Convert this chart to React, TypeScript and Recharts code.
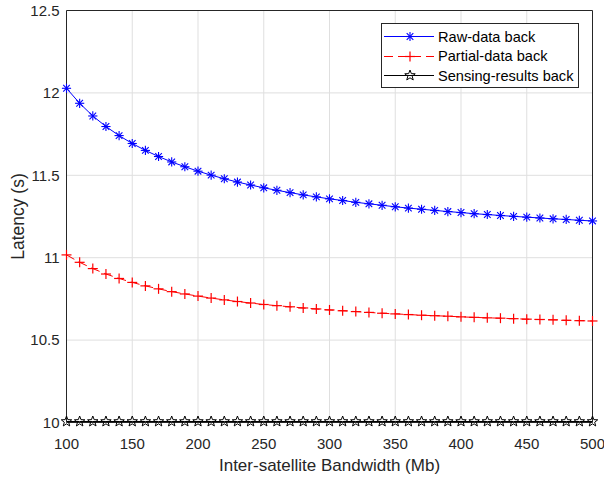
import { LineChart, Line, XAxis, YAxis, CartesianGrid } from "recharts";

const bandwidth = [100, 110, 120, 130, 140, 150, 160, 170, 180, 190, 200, 210, 220, 230, 240, 250, 260, 270, 280, 290, 300, 310, 320, 330, 340, 350, 360, 370, 380, 390, 400, 410, 420, 430, 440, 450, 460, 470, 480, 490, 500];
const rawBack = [12.028, 11.937, 11.86, 11.796, 11.741, 11.693, 11.651, 11.614, 11.581, 11.552, 11.525, 11.501, 11.479, 11.459, 11.441, 11.424, 11.409, 11.395, 11.381, 11.369, 11.357, 11.347, 11.336, 11.327, 11.318, 11.309, 11.301, 11.294, 11.287, 11.28, 11.274, 11.267, 11.262, 11.256, 11.251, 11.246, 11.241, 11.236, 11.232, 11.227, 11.223];
const partialBack = [11.017, 10.972, 10.934, 10.901, 10.874, 10.85, 10.829, 10.811, 10.794, 10.78, 10.767, 10.755, 10.744, 10.734, 10.725, 10.716, 10.709, 10.702, 10.695, 10.689, 10.683, 10.678, 10.673, 10.668, 10.663, 10.659, 10.655, 10.651, 10.648, 10.645, 10.641, 10.638, 10.635, 10.633, 10.63, 10.627, 10.625, 10.623, 10.62, 10.618, 10.616];
const sensingBack = [10.006, 10.006, 10.006, 10.006, 10.006, 10.006, 10.006, 10.006, 10.006, 10.006, 10.006, 10.006, 10.006, 10.006, 10.006, 10.006, 10.006, 10.006, 10.006, 10.006, 10.006, 10.006, 10.006, 10.006, 10.006, 10.006, 10.006, 10.006, 10.006, 10.006, 10.006, 10.006, 10.006, 10.006, 10.006, 10.006, 10.006, 10.006, 10.006, 10.006, 10.006];

const xTicks = [100, 150, 200, 250, 300, 350, 400, 450, 500];
const yTicks = [10, 10.5, 11, 11.5, 12, 12.5];
const seriesNames = ["Raw-data back", "Partial-data back", "Sensing-results back"];

const data = bandwidth.map((x, i) => ({ x, raw: rawBack[i], partial: partialBack[i], sensing: sensingBack[i] }));

const FONT = "'Liberation Sans', Arial, Helvetica, sans-serif";
const BLUE = "#0000ff";
const RED = "#ff0000";

function Asterisk({ cx, cy, r = 4.6 }: { cx: number; cy: number; r?: number }) {
  const d = r * 0.72;
  return (
    <g stroke={BLUE} strokeWidth={1.1}>
      <line x1={cx - r} y1={cy} x2={cx + r} y2={cy} />
      <line x1={cx} y1={cy - r} x2={cx} y2={cy + r} />
      <line x1={cx - d} y1={cy - d} x2={cx + d} y2={cy + d} />
      <line x1={cx - d} y1={cy + d} x2={cx + d} y2={cy - d} />
    </g>
  );
}

function Plus({ cx, cy, r = 5 }: { cx: number; cy: number; r?: number }) {
  return (
    <g stroke={RED} strokeWidth={1.2}>
      <line x1={cx - r} y1={cy} x2={cx + r} y2={cy} />
      <line x1={cx} y1={cy - r} x2={cx} y2={cy + r} />
    </g>
  );
}

function Star({ cx, cy, r = 5.5 }: { cx: number; cy: number; r?: number }) {
  const pts: string[] = [];
  for (let k = 0; k < 10; k++) {
    const a = -Math.PI / 2 + (k * Math.PI) / 5;
    const rr = k % 2 === 0 ? r : r * 0.42;
    pts.push(`${cx + rr * Math.cos(a)},${cy + rr * Math.sin(a)}`);
  }
  return <polygon points={pts.join(" ")} fill="none" stroke="#000" strokeWidth={1} />;
}

const dotFn = (Comp: typeof Asterisk) => (p: any) =>
  p.cx == null ? <g key={p.key} /> : <Comp key={p.key} cx={p.cx} cy={p.cy} />;

function LegendBox() {
  const rows = [
    { name: seriesNames[0], color: BLUE, dash: undefined, M: Asterisk },
    { name: seriesNames[1], color: RED, dash: "9 5", M: Plus },
    { name: seriesNames[2], color: "#000", dash: undefined, M: Star },
  ];
  return (
    <div style={{ position: "absolute", left: 381, top: 23, width: 198, height: 65, border: "1px solid #262626", background: "#fff", boxSizing: "border-box", paddingTop: 3 }}>
      {rows.map((r, i) => (
        <div key={i} style={{ display: "flex", alignItems: "center", height: 19.5 }}>
          <svg width={56} height={19} style={{ flex: "none" }}>
            <line x1={2} y1={9.5} x2={52} y2={9.5} stroke={r.color} strokeWidth={1} strokeDasharray={r.dash} />
            <r.M cx={28} cy={9.5} />
          </svg>
          <span style={{ fontFamily: FONT, fontSize: 14.6, color: "#000", whiteSpace: "nowrap" }}>{r.name}</span>
        </div>
      ))}
    </div>
  );
}

export default function App() {
  const tickStyle = { fontSize: 15, fill: "#262626", fontFamily: FONT };
  return (
    <div style={{ position: "absolute", left: 0, top: 0, width: 604, height: 479, background: "#fff" }}>
      <LineChart width={604} height={479} data={data} margin={{ top: 10.5, right: 11.5, bottom: 16.5, left: 0.5 }}>
        <CartesianGrid stroke="#dfdfdf" strokeWidth={1} horizontalValues={yTicks} verticalValues={xTicks} />
        <XAxis dataKey="x" type="number" domain={[100, 500]} ticks={xTicks} height={40} tickSize={0} tickMargin={16}
          tick={tickStyle} axisLine={{ stroke: "#262626" }}
          label={{ value: "Inter-satellite Bandwidth (Mb)", position: "center", dy: 22, style: { fontSize: 17, fill: "#262626", fontFamily: FONT } }} />
        <YAxis dataKey="raw" type="number" domain={[10, 12.5]} ticks={yTicks} width={66} tickSize={0} tickMargin={7}
          tick={tickStyle} axisLine={{ stroke: "#262626" }}
          label={{ value: "Latency (s)", angle: -90, position: "center", dx: -16, style: { fontSize: 17.5, fill: "#262626", fontFamily: FONT, textAnchor: "middle" } }} />
        <XAxis xAxisId="b2" type="number" domain={[100, 500]} ticks={xTicks} orientation="bottom" mirror allowDataOverflow tick={false} tickSize={5} axisLine={false} tickLine={{ stroke: "#262626" }} />
        <XAxis xAxisId="t2" type="number" domain={[100, 500]} ticks={xTicks} orientation="top" mirror allowDataOverflow tick={false} tickSize={5} axisLine={{ stroke: "#262626" }} tickLine={{ stroke: "#262626" }} />
        <YAxis yAxisId="l2" type="number" domain={[10, 12.5]} ticks={yTicks} orientation="left" mirror allowDataOverflow tick={false} tickSize={5} axisLine={false} tickLine={{ stroke: "#262626" }} />
        <YAxis yAxisId="r2" type="number" domain={[10, 12.5]} ticks={yTicks} orientation="right" mirror allowDataOverflow tick={false} tickSize={5} axisLine={{ stroke: "#262626" }} tickLine={{ stroke: "#262626" }} />
        <Line dataKey="raw" name={seriesNames[0]} stroke={BLUE} strokeWidth={1} dot={dotFn(Asterisk)} isAnimationActive={false} />
        <Line dataKey="partial" name={seriesNames[1]} stroke={RED} strokeWidth={1} strokeDasharray="9 5" dot={dotFn(Plus)} isAnimationActive={false} />
        <Line dataKey="sensing" name={seriesNames[2]} stroke="#000" strokeWidth={1} dot={dotFn(Star)} isAnimationActive={false} />
      </LineChart>
      <LegendBox />
    </div>
  );
}
